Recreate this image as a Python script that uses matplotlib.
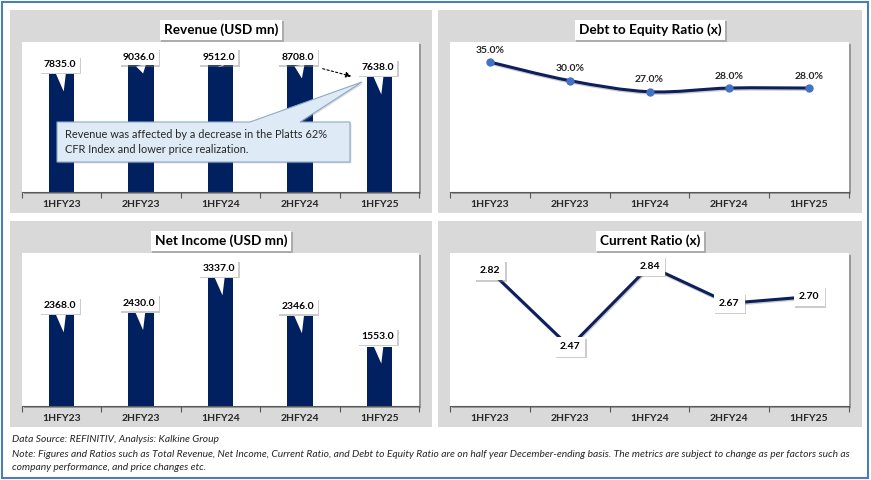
import numpy as np
import matplotlib
matplotlib.use("Agg")
import matplotlib.pyplot as plt
import matplotlib.patheffects as pe
from matplotlib.patches import Rectangle, Polygon, PathPatch
from matplotlib.path import Path

plt.rcParams["font.family"] = ["Lato", "DejaVu Sans"]

W, H = 871, 480
NAVY = "#002060"
PANEL = "#D9D9D9"

periods = ["1HFY23", "2HFY23", "1HFY24", "2HFY24", "1HFY25"]
revenue = [7835.0, 9036.0, 9512.0, 8708.0, 7638.0]
net_income = [2368.0, 2430.0, 3337.0, 2346.0, 1553.0]
debt_equity = [35.0, 30.0, 27.0, 28.0, 28.0]
current_ratio = [2.82, 2.47, 2.84, 2.67, 2.70]

note_rev = ("Revenue was affected by a decrease in the Platts 62%\n"
            "CFR Index and lower price realization.")
source_txt = "Data Source: REFINITIV, Analysis: Kalkine Group"
note_txt = ("Note: Figures and Ratios such as Total Revenue, Net Income, Current Ratio, and Debt to Equity Ratio "
            "are on half year December-ending basis. The metrics are subject to change as per factors such as\n"
            "company performance, and price changes etc.")


def fx(x):
    return x / W


def fy(y):
    return 1 - y / H


def box(x0, y0, x1, y1):
    # pixel box (top-left origin) -> figure rect
    return [fx(x0), fy(y1), fx(x1 - x0), (y1 - y0) / H]


def shadow(artist, off=1.0, alpha=0.4):
    artist.set_path_effects([pe.SimplePatchShadow(offset=(off, -off), shadow_rgbFace="#808080", alpha=alpha),
                             pe.Normal()])


fig = plt.figure(figsize=(W / 100, H / 100), dpi=100)

# outer border
fig.patches.append(Rectangle((fx(1.5), fy(478)), fx(866), (476.5) / H, transform=fig.transFigure,
                             fill=False, ec="#4A7EBB", lw=1.5, zorder=-2))


def panel(px, title, ylim):
    x0, y0, x1, y1 = px
    fig.patches.append(Rectangle((fx(x0), fy(y1)), fx(x1 - x0), (y1 - y0) / H,
                                 transform=fig.transFigure, fc=PANEL, ec="none", zorder=-1))
    ax = fig.add_axes(box(x0 + 12, y0 + 32, x1 - 13, y1 - 21))
    ax.patch.set_path_effects([pe.SimplePatchShadow(offset=(1.5, -1.5), shadow_rgbFace="#7F7F7F", alpha=0.7),
                               pe.Normal()])
    ax.set_xlim(-0.5, 4.5)
    ax.set_ylim(*ylim)
    for s in ["top", "left", "right"]:
        ax.spines[s].set_visible(False)
    ax.spines["bottom"].set_color("#595959")
    ax.spines["bottom"].set_linewidth(0.8)
    ax.set_yticks([])
    ax.set_xticks(np.arange(-0.5, 5, 1))
    ax.set_xticklabels([])
    ax.tick_params(axis="x", which="major", length=4, color="#595959", width=0.8)
    ax.set_xticks(range(5), minor=True)
    ax.set_xticklabels(periods, minor=True, fontsize=7.5, fontweight="bold", color="#262626")
    ax.tick_params(axis="x", which="minor", length=0, pad=6)
    t = fig.text(fx((x0 + x1) / 2), fy(y0 + 20), title, ha="center", va="center",
                 fontsize=9.8, fontweight="bold", color="black",
                 bbox=dict(boxstyle="square,pad=0.3", fc="white", ec="none"))
    shadow(t.get_bbox_patch(), 1.2, 0.5)
    return ax


def callout_labels(ax, vals):
    top_limit = ax.bbox.y1 - 15
    for i, v in enumerate(vals):
        bx, by = ax.transData.transform((i, v))
        tip = (bx + 2, by - 17)
        lab = (bx - 2, min(by + 10, top_limit))
        a = ax.annotate(f"{v:.1f}", xy=tip, xycoords="figure pixels", xytext=lab, textcoords="figure pixels",
                        ha="center", va="center", fontsize=7.5, fontweight="bold", color="black",
                        bbox=dict(boxstyle="square,pad=0.35", fc="white", ec="none"),
                        arrowprops=dict(arrowstyle="wedge,tail_width=1.0,shrink_factor=0.5",
                                        fc="white", ec="none", shrinkA=0, shrinkB=0),
                        zorder=5)
        shadow(a.get_bbox_patch())


# ---- Revenue ----
ax1 = panel((10, 10, 432, 213), "Revenue (USD mn)", (0, 10000))
ax1.bar(range(5), revenue, width=0.32, color=NAVY, zorder=2)
callout_labels(ax1, revenue)
ax1.annotate("", xy=(354, H - 77), xycoords="figure pixels", xytext=(320, H - 68), textcoords="figure pixels",
             arrowprops=dict(arrowstyle="-|>", ls=(0, (2, 2)), color="black", lw=0.8, mutation_scale=8),
             zorder=6)
# note callout: box with a pointer towards the last bar's label
cx0, cx1, cy0, cy1 = 57, 350, 122, 162
callout = [(cx0, cy0), (250, cy0), (362, 82), (300, cy0), (cx1, cy0), (cx1, cy1), (cx0, cy1)]
poly = Polygon([(fx(x), fy(y)) for x, y in callout], closed=True, transform=fig.transFigure,
               fc="#DEEAF6", ec="#8EA9C8", lw=0.8, zorder=7, clip_on=False)
ax1.add_patch(poly)
shadow(poly, 1.0, 0.3)
ax1.text(fx(65), fy(142), note_rev, transform=fig.transFigure, ha="left", va="center", fontsize=7.9,
         color="#262626", linespacing=1.45, zorder=8)

# ---- Debt to Equity ----
ax2 = panel((438, 10, 862, 213), "Debt to Equity Ratio (x)", (0, 40.4))
xs = np.arange(5, dtype=float)
ys = np.array(debt_equity)
# smoothed line (Catmull-Rom as cubic Bezier segments)
P = np.column_stack([xs, ys])
Pe = np.vstack([P[0], P, P[-1]])
verts = [tuple(P[0])]
codes = [Path.MOVETO]
for k in range(1, len(Pe) - 2):
    p0, p1, p2, p3 = Pe[k - 1], Pe[k], Pe[k + 1], Pe[k + 2]
    c1 = p1 + (p2 - p0) / 6
    c2 = p2 - (p3 - p1) / 6
    verts += [tuple(c1), tuple(c2), tuple(p2)]
    codes += [Path.CURVE4] * 3
ax2.add_patch(PathPatch(Path(verts, codes), fc="none", ec="#0D1F5C", lw=2.2, zorder=3,
                        path_effects=[pe.SimpleLineShadow(offset=(0.5, -1), shadow_color="#999999", alpha=0.5),
                                      pe.Normal()]))
ax2.plot(xs, ys, "o", ms=5, color="#4472C4", zorder=4)
for i, v in enumerate(debt_equity):
    ax2.annotate(f"{v:.1f}%", xy=(i, v), xytext=(0, 12), textcoords="offset pixels",
                 ha="center", va="center", fontsize=7.5, fontweight="bold", color="#262626")

# ---- Net Income ----
ax3 = panel((10, 221, 432, 427), "Net Income (USD mn)", (0, 4000))
ax3.bar(range(5), net_income, width=0.32, color=NAVY, zorder=2)
callout_labels(ax3, net_income)

# ---- Current Ratio ----
ax4 = panel((438, 221, 862, 427), "Current Ratio (x)", (2.2, 2.9))
ax4.plot(range(5), current_ratio, color="#0D1F5C", lw=2.2, zorder=3,
         path_effects=[pe.SimpleLineShadow(offset=(0.5, -1), shadow_color="#999999", alpha=0.5), pe.Normal()])
for i, v in enumerate(current_ratio):
    t = ax4.text(i, v, f"{v:.2f}", ha="center", va="center", fontsize=7.5, fontweight="bold", color="black",
                 bbox=dict(boxstyle="square,pad=0.5", fc="white", ec="none"), zorder=5)
    shadow(t.get_bbox_patch())

# ---- footer ----
fig.text(fx(12), fy(440), source_txt, ha="left", va="center", fontsize=7.4, style="italic", color="#262626")
fig.text(fx(12), fy(450), note_txt, ha="left", va="top", fontsize=7.4, style="italic", color="#262626",
         linespacing=1.5)

fig.savefig("out.png", dpi=100)
